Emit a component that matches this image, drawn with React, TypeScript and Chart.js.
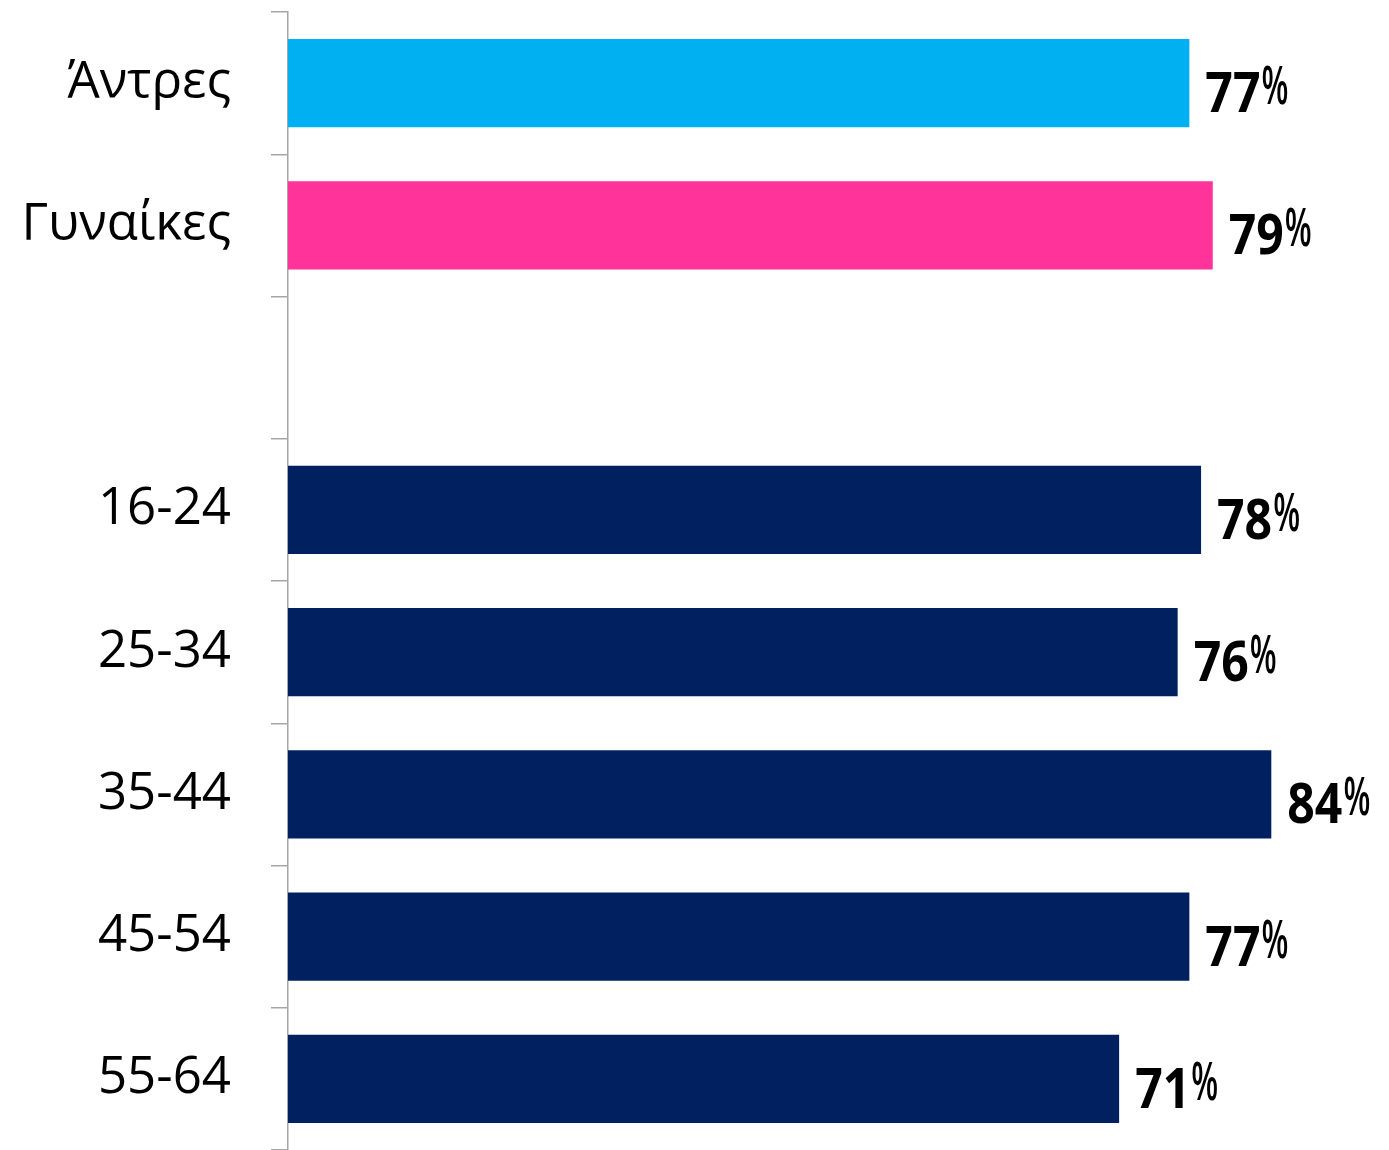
import React, { useEffect, useRef } from "react";
import { Chart, registerables } from "chart.js";

Chart.register(...registerables);

const categories = ["Άντρες", "Γυναίκες", "", "16-24", "25-34", "35-44", "45-54", "55-64"];
const values: (number | null)[] = [77, 79, null, 78, 76, 84, 77, 71];
const barColors = ["#00B0F0", "#FF3399", "#002060", "#002060", "#002060", "#002060", "#002060", "#002060"];
const valueLabels = ["77", "79", "", "78", "76", "84", "77", "71"];
const valueSuffix = "%";

const FONT = "'Open Sans', 'Noto Sans', sans-serif";

const labelPlugin = {
  id: "valueLabels",
  afterDatasetsDraw(chart: any) {
    const ctx = chart.ctx;
    const meta = chart.getDatasetMeta(0);
    meta.data.forEach((el: any, i: number) => {
      const txt = valueLabels[i];
      if (!txt || values[i] == null) return;
      const x0 = el.x + 16;
      ctx.save();
      ctx.fillStyle = "#000000";
      ctx.textAlign = "left";
      ctx.textBaseline = "alphabetic";
      ctx.font = `bold 56px ${FONT}`;
      const sx = 0.86;
      const w = ctx.measureText(txt).width * sx;
      ctx.save();
      ctx.translate(x0, el.y + 29);
      ctx.scale(sx, 1);
      ctx.fillText(txt, 0, 0);
      ctx.restore();
      ctx.font = `600 52px ${FONT}`;
      ctx.translate(x0 + w + 1, el.y + 21);
      ctx.scale(0.6, 1);
      ctx.fillText(valueSuffix, 0, 0);
      ctx.restore();
    });
  },
};

export default function App() {
  const ref = useRef<HTMLCanvasElement | null>(null);
  useEffect(() => {
    if (!ref.current) return;
    const chart = new Chart(ref.current, {
      type: "bar",
      data: {
        labels: categories,
        datasets: [
          {
            data: values,
            backgroundColor: barColors,
            borderWidth: 0,
            barPercentage: 0.62,
            categoryPercentage: 1,
          },
        ],
      },
      options: {
        indexAxis: "y",
        responsive: false,
        animation: false,
        layout: { padding: { top: 12, right: 10, bottom: 0, left: 0 } },
        plugins: { legend: { display: false }, tooltip: { enabled: false } },
        scales: {
          x: { display: false, min: 0, max: 93.2 },
          y: {
            afterFit(scale: any) {
              scale.width = 288;
              scale.paddingTop = 0;
              scale.paddingBottom = 0;
            },
            border: { display: true, color: "#A6A6A6", width: 1.5 },
            grid: {
              display: true,
              offset: true,
              drawOnChartArea: false,
              drawTicks: true,
              tickLength: 17,
              color: "#A6A6A6",
              lineWidth: 1.5,
            },
            ticks: {
              color: "#000000",
              padding: 40,
              font: { family: FONT, size: 51 },
            },
          },
        },
      },
      plugins: [labelPlugin],
    } as any);
    return () => chart.destroy();
  }, []);
  return (
    <div style={{ position: "absolute", left: 0, top: 0, width: 1389, height: 1150, background: "#fff" }}>
      <canvas ref={ref} width={1389} height={1150} style={{ display: "block" }} />
    </div>
  );
}
